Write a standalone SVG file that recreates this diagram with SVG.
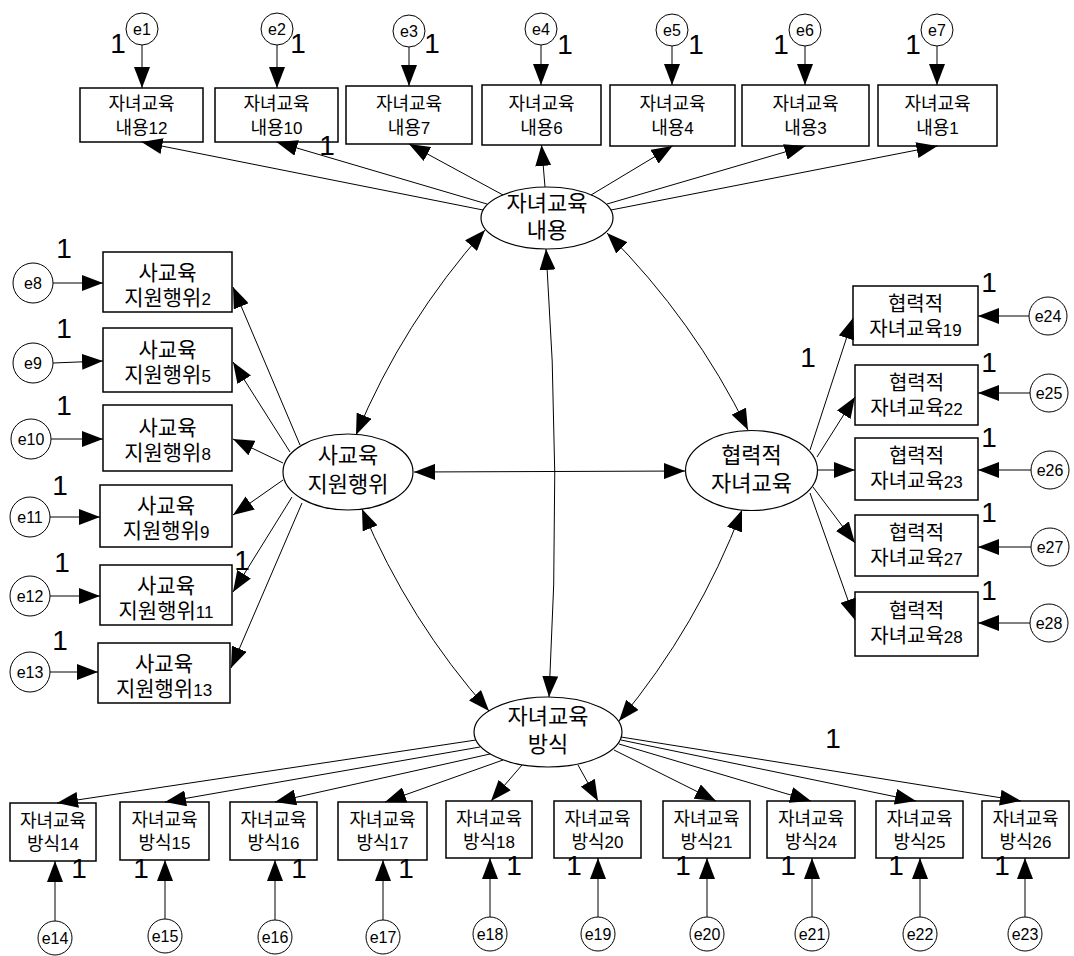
<svg xmlns="http://www.w3.org/2000/svg" width="1074" height="956" viewBox="0 0 1074 956">
<defs>
<marker id="ah" markerUnits="userSpaceOnUse" markerWidth="21" markerHeight="16" refX="21" refY="8" orient="auto-start-reverse" viewBox="0 0 21 16"><path d="M0,0 L21,8 L0,16 z" fill="#000"/></marker>
<style>
.box{fill:#fff;stroke:#000;stroke-width:1.5}
.lat{fill:#fff;stroke:#000;stroke-width:1.2}
.err{fill:#fff;stroke:#000;stroke-width:1}
.c{fill:none;stroke:#000;stroke-width:1;marker-end:url(#ah)}
.cv{fill:none;stroke:#000;stroke-width:1;marker-start:url(#ah);marker-end:url(#ah)}
text{font-family:"Liberation Sans","Noto Sans CJK KR",sans-serif;fill:#000;text-anchor:middle}
.s{font-size:18px}
.m{font-size:21px}
.r{font-size:20px}
.l{font-size:22px}
.d{font-size:17px}
.e{font-size:16px}
.one{font-size:28px}
</style>
</defs>
<rect width="1074" height="956" fill="#fff"/>

<g id="latent-content"><ellipse class="lat" cx="547" cy="218" rx="66" ry="31"/><text class="l" x="547" y="211">자녀교육</text><text class="l" x="547" y="238">내용</text></g>
<g id="latent-private"><ellipse class="lat" cx="348" cy="472" rx="65" ry="38"/><text class="l" x="348" y="463">사교육</text><text class="l" x="348" y="492">지원행위</text></g>
<g id="latent-coop"><ellipse class="lat" cx="751.5" cy="470.5" rx="66" ry="40"/><text class="l" x="751.5" y="463">협력적</text><text class="l" x="751.5" y="491">자녀교육</text></g>
<g id="latent-method"><ellipse class="lat" cx="548" cy="732" rx="74" ry="35"/><text class="l" x="548" y="724">자녀교육</text><text class="l" x="548" y="752">방식</text></g>

<g id="obs-c12"><rect class="box" x="80" y="88" width="123" height="54"/><text class="s" x="141.5" y="110">자녀교육</text><text class="s" x="141.5" y="134">내용<tspan class="d">12</tspan></text></g>
<g id="obs-c10"><rect class="box" x="215" y="88" width="123" height="54"/><text class="s" x="276.5" y="110">자녀교육</text><text class="s" x="276.5" y="134">내용<tspan class="d">10</tspan></text></g>
<g id="obs-c7"><rect class="box" x="346" y="86" width="126" height="58"/><text class="s" x="409" y="110">자녀교육</text><text class="s" x="409" y="134">내용<tspan class="d">7</tspan></text></g>
<g id="obs-c6"><rect class="box" x="482" y="85" width="119" height="60"/><text class="s" x="541.5" y="110">자녀교육</text><text class="s" x="541.5" y="134">내용<tspan class="d">6</tspan></text></g>
<g id="obs-c4"><rect class="box" x="610" y="85" width="125" height="61"/><text class="s" x="672.5" y="110">자녀교육</text><text class="s" x="672.5" y="134">내용<tspan class="d">4</tspan></text></g>
<g id="obs-c3"><rect class="box" x="742" y="85" width="127" height="61"/><text class="s" x="805.5" y="110">자녀교육</text><text class="s" x="805.5" y="134">내용<tspan class="d">3</tspan></text></g>
<g id="obs-c1"><rect class="box" x="878" y="85" width="119" height="61"/><text class="s" x="937.5" y="110">자녀교육</text><text class="s" x="937.5" y="134">내용<tspan class="d">1</tspan></text></g>

<g id="obs-p2"><rect class="box" x="103" y="252" width="129" height="60"/><text class="m" x="167.5" y="279.5">사교육</text><text class="m" x="167.5" y="304.5">지원행위<tspan class="d">2</tspan></text></g>
<g id="obs-p5"><rect class="box" x="103" y="328" width="129" height="64"/><text class="m" x="167.5" y="356.5">사교육</text><text class="m" x="167.5" y="382">지원행위<tspan class="d">5</tspan></text></g>
<g id="obs-p8"><rect class="box" x="103" y="405" width="129" height="66"/><text class="m" x="167.5" y="434.5">사교육</text><text class="m" x="167.5" y="459.5">지원행위<tspan class="d">8</tspan></text></g>
<g id="obs-p9"><rect class="box" x="100" y="485" width="132" height="62"/><text class="m" x="166" y="513">사교육</text><text class="m" x="166" y="538">지원행위<tspan class="d">9</tspan></text></g>
<g id="obs-p11"><rect class="box" x="100" y="565" width="132" height="60"/><text class="m" x="166" y="593">사교육</text><text class="m" x="166" y="618">지원행위<tspan class="d">11</tspan></text></g>
<g id="obs-p13"><rect class="box" x="98" y="643" width="132" height="60"/><text class="m" x="164" y="671">사교육</text><text class="m" x="164" y="696">지원행위<tspan class="d">13</tspan></text></g>

<g id="obs-k19"><rect class="box" x="853" y="286" width="125" height="59"/><text class="r" x="915.5" y="311">협력적</text><text class="r" x="915.5" y="336">자녀교육<tspan class="d">19</tspan></text></g>
<g id="obs-k22"><rect class="box" x="855" y="365" width="123" height="60"/><text class="r" x="916.5" y="390">협력적</text><text class="r" x="916.5" y="415">자녀교육<tspan class="d">22</tspan></text></g>
<g id="obs-k23"><rect class="box" x="855" y="438" width="123" height="62"/><text class="r" x="916.5" y="463">협력적</text><text class="r" x="916.5" y="488">자녀교육<tspan class="d">23</tspan></text></g>
<g id="obs-k27"><rect class="box" x="855" y="515" width="123" height="61"/><text class="r" x="916.5" y="540">협력적</text><text class="r" x="916.5" y="565">자녀교육<tspan class="d">27</tspan></text></g>
<g id="obs-k28"><rect class="box" x="855" y="592" width="123" height="64"/><text class="r" x="916.5" y="618">협력적</text><text class="r" x="916.5" y="643">자녀교육<tspan class="d">28</tspan></text></g>

<g id="obs-m14"><rect class="box" x="10" y="803" width="86" height="58"/><text class="s" x="53" y="827">자녀교육</text><text class="s" x="53" y="850">방식<tspan class="d">14</tspan></text></g>
<g id="obs-m15"><rect class="box" x="120" y="802" width="89" height="58"/><text class="s" x="164.5" y="826">자녀교육</text><text class="s" x="164.5" y="849">방식<tspan class="d">15</tspan></text></g>
<g id="obs-m16"><rect class="box" x="230" y="802" width="87" height="58"/><text class="s" x="273.5" y="826">자녀교육</text><text class="s" x="273.5" y="849">방식<tspan class="d">16</tspan></text></g>
<g id="obs-m17"><rect class="box" x="338" y="802" width="89" height="58"/><text class="s" x="382.5" y="826">자녀교육</text><text class="s" x="382.5" y="849">방식<tspan class="d">17</tspan></text></g>
<g id="obs-m18"><rect class="box" x="446" y="801" width="86" height="57"/><text class="s" x="489" y="825">자녀교육</text><text class="s" x="489" y="848">방식<tspan class="d">18</tspan></text></g>
<g id="obs-m20"><rect class="box" x="554" y="801" width="87" height="57"/><text class="s" x="597.5" y="825">자녀교육</text><text class="s" x="597.5" y="848">방식<tspan class="d">20</tspan></text></g>
<g id="obs-m21"><rect class="box" x="663" y="801" width="87" height="57"/><text class="s" x="706.5" y="825">자녀교육</text><text class="s" x="706.5" y="848">방식<tspan class="d">21</tspan></text></g>
<g id="obs-m24"><rect class="box" x="767" y="801" width="88" height="57"/><text class="s" x="811" y="825">자녀교육</text><text class="s" x="811" y="848">방식<tspan class="d">24</tspan></text></g>
<g id="obs-m25"><rect class="box" x="876" y="801" width="87" height="57"/><text class="s" x="919.5" y="825">자녀교육</text><text class="s" x="919.5" y="848">방식<tspan class="d">25</tspan></text></g>
<g id="obs-m26"><rect class="box" x="982" y="801" width="87" height="57"/><text class="s" x="1025.5" y="825">자녀교육</text><text class="s" x="1025.5" y="848">방식<tspan class="d">26</tspan></text></g>

<g id="err-e1"><circle class="err" cx="142" cy="29" r="16"/><text class="e" x="142" y="34.5">e1</text></g>
<g id="err-e2"><circle class="err" cx="277" cy="29" r="16"/><text class="e" x="277" y="34.5">e2</text></g>
<g id="err-e3"><circle class="err" cx="409" cy="31" r="16"/><text class="e" x="409" y="36.5">e3</text></g>
<g id="err-e4"><circle class="err" cx="541" cy="29" r="16"/><text class="e" x="541" y="34.5">e4</text></g>
<g id="err-e5"><circle class="err" cx="672" cy="30" r="16"/><text class="e" x="672" y="35.5">e5</text></g>
<g id="err-e6"><circle class="err" cx="805" cy="30" r="16"/><text class="e" x="805" y="35.5">e6</text></g>
<g id="err-e7"><circle class="err" cx="937" cy="30" r="16"/><text class="e" x="937" y="35.5">e7</text></g>
<g id="err-e8"><circle class="err" cx="33" cy="283" r="20"/><text class="e" x="33" y="288.5">e8</text></g>
<g id="err-e9"><circle class="err" cx="33" cy="363" r="20"/><text class="e" x="33" y="368.5">e9</text></g>
<g id="err-e10"><circle class="err" cx="31" cy="439" r="20"/><text class="e" x="31" y="444.5">e10</text></g>
<g id="err-e11"><circle class="err" cx="30" cy="517" r="20"/><text class="e" x="30" y="522.5">e11</text></g>
<g id="err-e12"><circle class="err" cx="30" cy="596" r="20"/><text class="e" x="30" y="601.5">e12</text></g>
<g id="err-e13"><circle class="err" cx="30" cy="672" r="20"/><text class="e" x="30" y="677.5">e13</text></g>
<g id="err-e14"><circle class="err" cx="55" cy="938" r="17"/><text class="e" x="55" y="943.5">e14</text></g>
<g id="err-e15"><circle class="err" cx="165" cy="936" r="17"/><text class="e" x="165" y="941.5">e15</text></g>
<g id="err-e16"><circle class="err" cx="275" cy="937" r="17"/><text class="e" x="275" y="942.5">e16</text></g>
<g id="err-e17"><circle class="err" cx="383" cy="937" r="17"/><text class="e" x="383" y="942.5">e17</text></g>
<g id="err-e18"><circle class="err" cx="490" cy="934" r="17"/><text class="e" x="490" y="939.5">e18</text></g>
<g id="err-e19"><circle class="err" cx="598" cy="934" r="17"/><text class="e" x="598" y="939.5">e19</text></g>
<g id="err-e20"><circle class="err" cx="707" cy="934" r="17"/><text class="e" x="707" y="939.5">e20</text></g>
<g id="err-e21"><circle class="err" cx="812" cy="934" r="17"/><text class="e" x="812" y="939.5">e21</text></g>
<g id="err-e22"><circle class="err" cx="920" cy="934" r="17"/><text class="e" x="920" y="939.5">e22</text></g>
<g id="err-e23"><circle class="err" cx="1025" cy="934" r="17"/><text class="e" x="1025" y="939.5">e23</text></g>
<g id="err-e24"><circle class="err" cx="1048" cy="316" r="19"/><text class="e" x="1048" y="321.5">e24</text></g>
<g id="err-e25"><circle class="err" cx="1049" cy="393" r="19"/><text class="e" x="1049" y="398.5">e25</text></g>
<g id="err-e26"><circle class="err" cx="1050" cy="470" r="19"/><text class="e" x="1050" y="475.5">e26</text></g>
<g id="err-e27"><circle class="err" cx="1050" cy="547" r="19"/><text class="e" x="1050" y="552.5">e27</text></g>
<g id="err-e28"><circle class="err" cx="1049" cy="623" r="19"/><text class="e" x="1049" y="628.5">e28</text></g>

<g id="connectors">
<path class="c" d="M142,45 L142,88"/>
<path class="c" d="M277,45 L277,88"/>
<path class="c" d="M409,47 L409,86"/>
<path class="c" d="M541,45 L541,85"/>
<path class="c" d="M672,46 L672,85"/>
<path class="c" d="M805,46 L805,85"/>
<path class="c" d="M937,46 L937,85"/>
<path class="c" d="M53,283 L103,283"/>
<path class="c" d="M53,363 L103,361"/>
<path class="c" d="M51,439 L103,439"/>
<path class="c" d="M50,517 L100,517"/>
<path class="c" d="M50,596 L100,596"/>
<path class="c" d="M50,672 L98,672"/>
<path class="c" d="M55,921 L55,861"/>
<path class="c" d="M165,919 L165,860"/>
<path class="c" d="M275,920 L275,860"/>
<path class="c" d="M383,920 L383,860"/>
<path class="c" d="M490,917 L490,858"/>
<path class="c" d="M598,917 L598,858"/>
<path class="c" d="M707,917 L707,858"/>
<path class="c" d="M812,917 L812,858"/>
<path class="c" d="M920,917 L920,858"/>
<path class="c" d="M1025,917 L1025,858"/>
<path class="c" d="M1029,316 L978,316"/>
<path class="c" d="M1030,393 L978,393"/>
<path class="c" d="M1031,470 L978,470"/>
<path class="c" d="M1031,547 L978,547"/>
<path class="c" d="M1030,623 L978,623"/>
<path class="c" d="M483,210 L141.5,142"/>
<path class="c" d="M487,204 L276.5,142"/>
<path class="c" d="M503,195 L409,144"/>
<path class="c" d="M545,187 L541.5,145"/>
<path class="c" d="M591,195 L672.5,146"/>
<path class="c" d="M607,204 L805.5,146"/>
<path class="c" d="M611,210 L937.5,146"/>
<path class="c" d="M300,445 L233,287"/>
<path class="c" d="M290,452 L233,362"/>
<path class="c" d="M283,463 L233,439"/>
<path class="c" d="M283,480 L233,515"/>
<path class="c" d="M292,497 L233,592"/>
<path class="c" d="M302,503 L231,668"/>
<path class="c" d="M810,450 L853,318"/>
<path class="c" d="M817,457 L855,397"/>
<path class="c" d="M818,470 L855,470"/>
<path class="c" d="M813,487 L855,543"/>
<path class="c" d="M810,493 L855,620"/>
<path class="c" d="M476,740 L57,803"/>
<path class="c" d="M480,747 L165,802"/>
<path class="c" d="M490,754 L275,802"/>
<path class="c" d="M503,760 L385,802"/>
<path class="c" d="M522,765 L491,801"/>
<path class="c" d="M578,765 L598,801"/>
<path class="c" d="M614,750 L716,801"/>
<path class="c" d="M619,744 L811,801"/>
<path class="c" d="M621,740 L916,801"/>
<path class="c" d="M621,737 L1021,801"/>
<path class="cv" d="M485,230 Q403,322 356,435"/>
<path class="cv" d="M607,233 Q694,320 748,430"/>
<path class="cv" d="M362,509 Q409,621 489,711"/>
<path class="cv" d="M742,510 Q698,626 619,721"/>
<path class="cv" d="M414,472 L685,471"/>
<path class="cv" d="M546,249 Q562,473 549,697"/>
</g>

<g id="labels">
<text class="one" x="118" y="53">1</text>
<text class="one" x="298" y="53">1</text>
<text class="one" x="432" y="53">1</text>
<text class="one" x="565" y="54">1</text>
<text class="one" x="696" y="54">1</text>
<text class="one" x="781" y="54">1</text>
<text class="one" x="913" y="54">1</text>
<text class="one" x="327" y="155">1</text>
<text class="one" x="64" y="258">1</text>
<text class="one" x="64" y="338">1</text>
<text class="one" x="64" y="415">1</text>
<text class="one" x="60" y="495">1</text>
<text class="one" x="62" y="572">1</text>
<text class="one" x="60" y="650">1</text>
<text class="one" x="242" y="570">1</text>
<text class="one" x="989" y="292">1</text>
<text class="one" x="989" y="372">1</text>
<text class="one" x="989" y="447">1</text>
<text class="one" x="989" y="522">1</text>
<text class="one" x="989" y="600">1</text>
<text class="one" x="808" y="367">1</text>
<text class="one" x="79" y="878">1</text>
<text class="one" x="141" y="878">1</text>
<text class="one" x="299" y="878">1</text>
<text class="one" x="406" y="878">1</text>
<text class="one" x="514" y="875">1</text>
<text class="one" x="574" y="875">1</text>
<text class="one" x="683" y="875">1</text>
<text class="one" x="788" y="875">1</text>
<text class="one" x="896" y="875">1</text>
<text class="one" x="1002" y="875">1</text>
<text class="one" x="833" y="748">1</text>
</g>
</svg>
